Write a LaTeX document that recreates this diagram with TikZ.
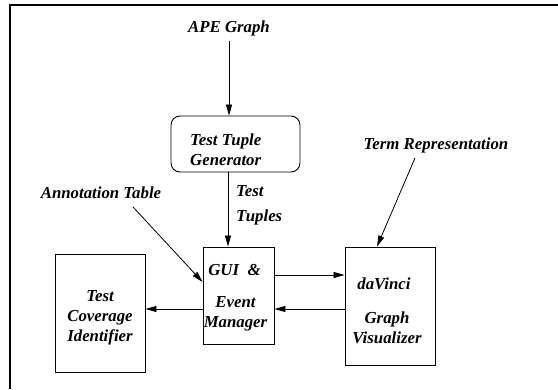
\documentclass[tikz,border=0pt]{standalone}
\usepackage{fontspec}
\setmainfont{Liberation Serif}
\usetikzlibrary{arrows.meta}
\begin{document}
\begin{tikzpicture}[x=1pt,y=-1pt,
  lbl/.style={font=\fontsize{16.8}{20}\selectfont\bfseries\itshape, inner sep=0pt, align=center},
  box/.style={draw, line width=0.9pt, inner sep=0pt},
  conn/.style={line width=0.8pt, -{Triangle[length=11pt,width=6pt]}}]
\useasboundingbox (0,0) rectangle (558,389);
% frame
\draw[line width=1.4pt] (10,389) -- (10,5) -- (558,5);
% boxes
\node[box, rounded corners=9pt, minimum width=129pt, minimum height=56pt] (ttg) at (235.5,144) {};
\node[box, minimum width=71pt, minimum height=97pt] (gui) at (238.5,295.5) {};
\node[box, minimum width=90pt, minimum height=118pt] (dv) at (390,306) {};
\node[box, minimum width=90pt, minimum height=118pt] (tc) at (100,313) {};
% texts
\node[lbl] (ape) at (229,28) {APE Graph};
\node[lbl, align=left, anchor=west] (ttgt) at (190,150) {Test Tuple\\Generator};
\node[lbl, align=left, anchor=west] (tt) at (236,205.5) {Test\\[5pt]Tuples};
\node[lbl] (ann) at (101,193) {Annotation Table};
\node[lbl] (term) at (436,145) {Term Representation};
\node[lbl] (guit) at (234.5,270) {GUI\ \ \&};
\node[lbl] (evt) at (235.5,314) {Event\\Manager};
\node[lbl] (dvt) at (384,284) {daVinci};
\node[lbl] (gvt) at (387,328) {Graph\\Visualizer};
\node[lbl] (tct) at (100,318) {Test\\Coverage\\Identifier};
% connectors
\coordinate (annend) at (133,207);
\coordinate (termend) at (415,158);
\draw[conn] (ape.south |- 0,41) -- (ttg.north -| ape.south);
\draw[conn] (ttg.south -| 228,0) -- (gui.north -| 228,0);
\draw[conn] (annend) -- (gui.west |- 0,282);
\draw[conn] (termend) -- (dv.north -| 377,0);
\draw[conn] (gui.east |- 0,275) -- (dv.west |- 0,275);
\draw[conn] (dv.west |- 0,309) -- (gui.east |- 0,309);
\draw[conn] (gui.west |- 0,309) -- (tc.east |- 0,309);
\end{tikzpicture}
\end{document}
